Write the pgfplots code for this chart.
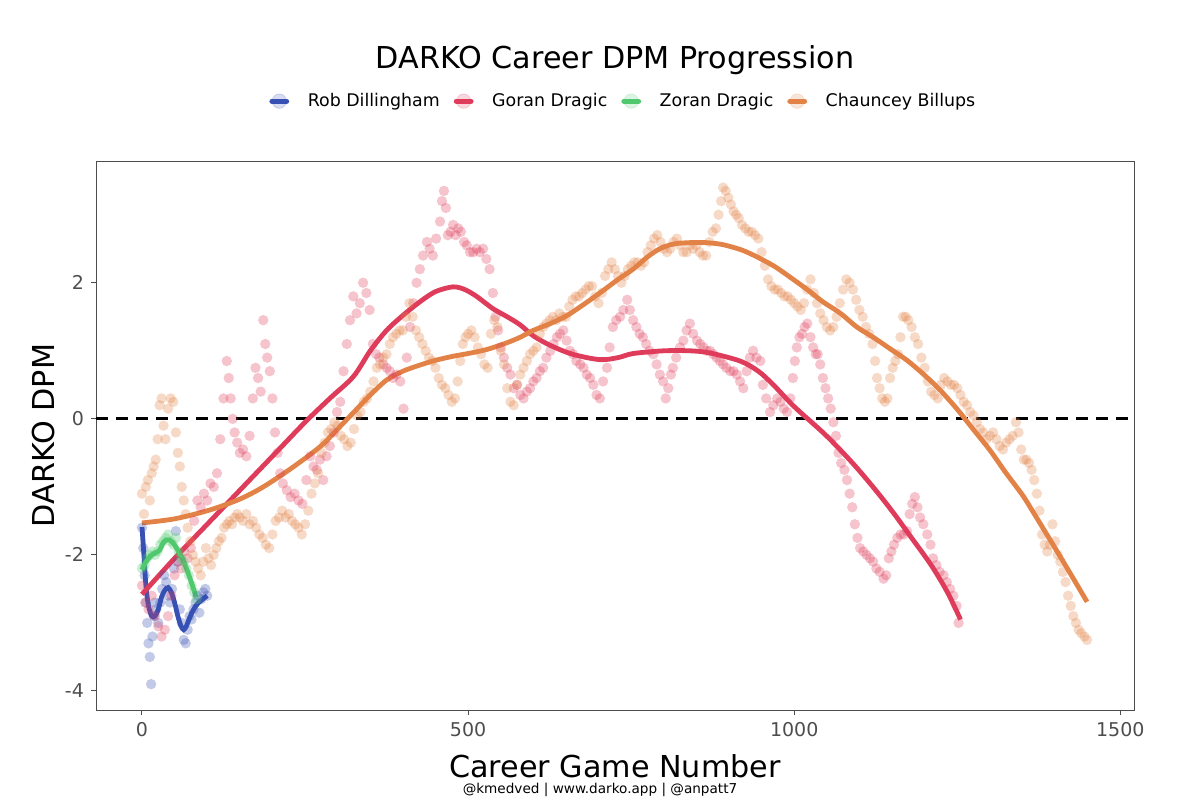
\documentclass[border=0pt]{standalone}
\usepackage{pgfplots}
\pgfplotsset{compat=1.18}
\usepackage{fontspec}
\setmainfont{DejaVu Sans}
\definecolor{cblue}{RGB}{55,80,180}
\definecolor{cred}{RGB}{222,60,90}
\definecolor{cgreen}{RGB}{80,200,110}
\definecolor{corange}{RGB}{226,130,70}
\definecolor{tickgray}{RGB}{77,77,77}
\begin{document}
\begin{tikzpicture}
\path[use as bounding box] (0,0) rectangle (600pt,400pt);
\begin{axis}[
  at={(48pt,45pt)}, anchor=south west,
  scale only axis, width=519pt, height=274.5pt,
  xmin=-70.5, xmax=1521, ymin=-4.28, ymax=3.79,
  xtick={0,500,1000,1500}, ytick={-4,-2,0,2},
  tick align=outside, tick pos=left,
  major tick length=2.5pt,
  every tick/.style={tickgray, line width=0.5pt},
  axis line style={tickgray, line width=0.5pt},
  tick label style={font=\fontsize{9.5}{11}\selectfont, text=tickgray},
  /pgf/number format/assume math mode=true,
  /pgf/number format/1000 sep={},
  xlabel={Career Game Number},
  xlabel style={at={(axis description cs:0.5,-0.102)}, anchor=center, font=\fontsize{15.1}{17}\selectfont},
  ylabel={DARKO DPM},
  ylabel style={at={(axis description cs:-0.051,0.5)}, anchor=center, font=\fontsize{15.1}{17}\selectfont},
  title={DARKO Career DPM Progression},
  every axis title shift=0pt,
  title style={at={(axis description cs:0.5,1.184)}, anchor=center, font=\fontsize{15.1}{17}\selectfont},
  legend columns=4,
  legend style={at={(axis description cs:0.509,1.109)}, anchor=center, draw=none, fill=none,
    font=\fontsize{8.7}{10}\selectfont, /tikz/every even column/.append style={column sep=5pt}},
  legend image code/.code={\fill[opacity=0.2] (4.25pt,0) circle (3.6pt); \draw[line width=2.6pt, line cap=round] (0.6pt,0) -- (7.9pt,0); \path[draw=none, fill=none] (0pt,-3pt) rectangle (16.5pt,3pt);},
]
\addlegendimage{cblue}\addlegendentry{Rob Dillingham}
\addlegendimage{cred}\addlegendentry{Goran Dragic}
\addlegendimage{cgreen}\addlegendentry{Zoran Dragic}
\addlegendimage{corange}\addlegendentry{Chauncey Billups}

% Rob Dillingham points
\addplot[forget plot, only marks, mark=*, mark size=2.6pt, color=cblue, mark options={draw opacity=0, fill opacity=0.3}] coordinates {
(0,-1.6) (2,-1.9) (4,-2.3) (6,-2.7) (8,-3.0) (10,-3.3) (12,-3.5) (14,-3.9) (16,-3.2) (18,-2.9) (20,-2.7) (22,-2.8) (25,-3.0) (28,-2.7) (31,-2.5) (34,-2.3) (37,-2.4) (40,-2.6) (43,-2.7) (46,-2.5) (49,-2.2) (52,-1.65) (55,-2.1) (58,-2.8) (61,-3.0) (64,-3.25) (67,-3.3) (70,-3.1) (73,-2.9) (76,-2.95) (79,-2.8) (82,-2.7) (85,-2.6) (88,-2.85) (91,-2.65) (94,-2.55) (97,-2.5) (100,-2.6)
};
% Goran Dragic points
\addplot[forget plot, only marks, mark=*, mark size=2.6pt, color=cred, mark options={draw opacity=0, fill opacity=0.3}] coordinates {
(0,-2.45) (5,-2.7) (10,-2.8) (15,-2.6) (20,-2.9) (25,-3.05) (30,-3.2) (35,-3.1) (40,-2.9) (45,-2.6) (50,-2.3) (55,-2.1) (60,-2.2) (65,-1.95) (70,-2.05) (75,-1.9) (80,-1.5) (85,-1.2) (90,-1.3) (95,-1.1) (100,-1.2) (105,-0.95) (110,-1.0) (115,-0.8) (120,-0.3) (125,0.3) (130,0.85) (133,0.6) (136,0.3) (139,0.0) (142,-0.2) (146,-0.35) (150,-0.5) (155,-0.45) (160,-0.55) (165,-0.25) (170,0.3) (174,0.75) (178,0.6) (182,0.4) (186,1.45) (189,1.1) (192,0.9) (196,0.7) (200,0.3) (204,-0.2) (208,-0.5) (212,-0.8) (216,-0.95) (222,-1.05) (228,-1.15) (234,-1.1) (240,-1.2) (246,-1.25) (252,-0.9) (258,-0.55) (263,-0.7) (268,-0.75) (273,-0.6) (278,-0.9) (283,-0.55) (288,-0.4) (294,-0.2) (299,0.1) (304,0.25) (309,0.7) (314,1.1) (319,1.45) (324,1.8) (329,1.55) (334,1.7) (339,2.0) (344,1.85) (349,1.6) (354,1.1) (359,0.95) (364,0.9) (370,0.8) (375,0.75) (380,0.7) (385,0.6) (390,0.65) (396,0.55) (401,0.15) (406,0.9) (411,1.35) (416,1.7) (421,2.0) (426,2.2) (431,2.4) (437,2.6) (441,2.5) (446,2.4) (451,2.65) (457,2.9) (460,3.2) (463,3.35) (466,3.1) (469,2.7) (473,2.75) (477,2.85) (481,2.7) (485,2.8) (489,2.75) (494,2.6) (498,2.55) (503,2.45) (508,2.45) (513,2.5) (518,2.45) (523,2.5) (528,2.35) (533,2.2) (538,1.85) (542,1.5) (546,1.3) (550,1.05) (555,0.9) (560,0.75) (565,0.65) (570,0.45) (575,0.5) (580,0.35) (585,0.3) (590,0.4) (595,0.45) (600,0.55) (605,0.6) (610,0.7) (615,0.75) (620,0.9) (626,1.0) (631,1.1) (636,1.2) (641,1.25) (646,1.3) (651,1.15) (656,1.0) (661,0.95) (666,0.85) (672,0.8) (677,0.75) (682,0.65) (687,0.6) (692,0.5) (697,0.35) (702,0.3) (707,0.55) (713,0.75) (717,1.05) (722,1.35) (727,1.45) (733,1.5) (738,1.6) (744,1.75) (748,1.6) (753,1.45) (758,1.35) (763,1.25) (768,1.2) (773,1.1) (778,1.0) (784,0.95) (789,0.8) (794,0.65) (799,0.55) (803,0.3) (807,0.45) (811,0.65) (814,0.75) (819,0.9) (825,1.05) (830,1.15) (835,1.3) (840,1.4) (845,1.25) (851,1.15) (856,1.1) (861,1.05) (866,1.0) (871,1.0) (876,0.95) (881,0.9) (886,0.85) (891,0.8) (896,0.75) (902,0.7) (907,0.7) (912,0.65) (917,0.55) (922,0.45) (927,0.7) (932,0.9) (937,1.0) (942,0.9) (948,0.85) (952,0.5) (957,0.3) (963,0.1) (968,0.2) (974,0.3) (979,0.25) (984,0.15) (989,0.1) (994,0.3) (998,0.6) (1001,0.85) (1004,1.05) (1008,1.2) (1012,1.25) (1016,1.35) (1020,1.4) (1025,1.2) (1029,1.05) (1033,0.95) (1036,0.95) (1040,0.8) (1044,0.6) (1048,0.45) (1052,0.3) (1056,0.15) (1060,-0.05) (1064,-0.25) (1068,-0.5) (1072,-0.65) (1077,-0.75) (1081,-0.9) (1085,-1.1) (1089,-1.3) (1093,-1.55) (1097,-1.75) (1101,-1.9) (1106,-1.95) (1111,-2.0) (1116,-2.05) (1121,-2.1) (1126,-2.2) (1131,-2.25) (1137,-2.35) (1141,-2.3) (1145,-2.05) (1149,-1.95) (1153,-1.85) (1158,-1.75) (1163,-1.7) (1168,-1.7) (1173,-1.65) (1177,-1.4) (1181,-1.25) (1185,-1.15) (1189,-1.3) (1193,-1.45) (1198,-1.55) (1204,-1.7) (1209,-1.85) (1213,-2.05) (1218,-2.15) (1223,-2.25) (1229,-2.3) (1234,-2.4) (1239,-2.5) (1244,-2.6) (1249,-2.75) (1252,-3.0)
};
% Zoran Dragic points
\addplot[forget plot, only marks, mark=*, mark size=2.6pt, color=cgreen, mark options={draw opacity=0, fill opacity=0.3}] coordinates {
(0,-2.2) (4,-2.15) (8,-2.05) (12,-2.0) (16,-1.95) (20,-2.0) (24,-1.95) (28,-1.85) (32,-1.8) (36,-1.75) (40,-1.7) (44,-1.8) (48,-1.85) (52,-1.75) (56,-1.95) (60,-2.05) (64,-2.1) (68,-2.2) (72,-2.3) (76,-2.45) (80,-2.55) (84,-2.65)
};
% Chauncey Billups points
\addplot[forget plot, only marks, mark=*, mark size=2.6pt, color=corange, mark options={draw opacity=0, fill opacity=0.3}] coordinates {
(0,-1.1) (3,-1.4) (6,-1.0) (9,-0.9) (12,-1.2) (15,-0.8) (18,-0.7) (21,-0.6) (24,-0.3) (27,0.2) (30,0.3) (33,-0.1) (36,-0.3) (40,0.15) (44,0.3) (48,0.25) (52,-0.2) (55,-0.5) (58,-0.7) (61,-1.0) (64,-1.2) (67,-1.4) (70,-1.6) (74,-1.8) (78,-2.0) (82,-2.1) (86,-2.2) (90,-2.3) (94,-2.1) (98,-1.9) (102,-2.05) (106,-2.15) (110,-2.0) (114,-1.9) (118,-1.8) (122,-1.75) (126,-1.6) (130,-1.55) (134,-1.5) (138,-1.55) (142,-1.45) (146,-1.4) (150,-1.45) (155,-1.5) (160,-1.4) (165,-1.55) (170,-1.5) (175,-1.6) (180,-1.7) (185,-1.75) (190,-1.85) (195,-1.9) (200,-1.7) (205,-1.5) (210,-1.45) (215,-1.35) (220,-1.45) (225,-1.4) (230,-1.5) (235,-1.55) (240,-1.6) (245,-1.7) (250,-1.55) (255,-1.35) (260,-1.1) (265,-0.95) (270,-0.8) (275,-0.5) (280,-0.35) (285,-0.2) (290,-0.15) (295,-0.05) (300,-0.1) (305,-0.25) (310,-0.3) (315,-0.4) (320,-0.35) (325,-0.15) (330,0.05) (335,0.1) (340,0.25) (345,0.3) (350,0.4) (355,0.55) (360,0.75) (365,0.8) (370,0.9) (375,0.95) (380,1.1) (385,1.2) (390,1.25) (395,1.3) (400,1.3) (405,1.5) (410,1.7) (415,1.5) (420,1.3) (425,1.2) (430,1.1) (435,1.0) (440,0.9) (445,0.85) (450,0.75) (455,0.6) (460,0.5) (465,0.45) (470,0.35) (475,0.25) (480,0.3) (484,0.55) (488,0.85) (492,1.1) (496,1.2) (500,1.25) (505,1.3) (510,1.2) (515,1.05) (520,0.95) (525,0.8) (530,0.75) (535,1.25) (540,1.45) (545,1.35) (550,1.0) (555,0.8) (560,0.45) (565,0.25) (570,0.2) (575,0.5) (580,0.65) (585,0.75) (590,0.85) (595,0.95) (600,1.0) (605,1.05) (610,1.25) (615,1.35) (620,1.4) (625,1.45) (630,1.5) (635,1.45) (640,1.55) (645,1.5) (650,1.5) (655,1.65) (660,1.75) (665,1.8) (670,1.8) (675,1.85) (680,1.9) (685,1.95) (690,1.95) (695,1.8) (700,1.7) (705,1.85) (710,2.1) (715,2.2) (720,2.3) (725,2.2) (730,2.1) (735,2.0) (740,2.1) (745,2.2) (750,2.25) (755,2.3) (760,2.3) (765,2.25) (770,2.3) (775,2.45) (780,2.55) (785,2.65) (790,2.7) (795,2.6) (800,2.5) (805,2.45) (810,2.5) (815,2.6) (820,2.65) (825,2.55) (830,2.45) (835,2.45) (840,2.55) (845,2.5) (850,2.55) (855,2.45) (860,2.4) (865,2.4) (870,2.6) (875,2.75) (880,2.8) (884,3.0) (888,3.2) (891,3.4) (895,3.35) (899,3.25) (903,3.15) (907,3.05) (911,3.0) (915,2.95) (920,2.85) (925,2.8) (930,2.75) (935,2.75) (940,2.7) (945,2.65) (950,2.45) (955,2.25) (960,2.05) (965,1.95) (970,1.9) (975,1.9) (980,1.85) (985,1.8) (990,1.8) (995,1.75) (1000,1.7) (1005,1.65) (1010,1.6) (1015,1.7) (1020,1.9) (1025,2.05) (1030,1.85) (1035,1.7) (1040,1.55) (1045,1.45) (1050,1.35) (1055,1.3) (1060,1.35) (1065,1.5) (1070,1.7) (1075,1.9) (1080,2.05) (1085,2.0) (1090,1.9) (1095,1.75) (1100,1.6) (1105,1.5) (1110,1.35) (1115,1.25) (1120,1.1) (1124,0.85) (1127,0.6) (1131,0.45) (1135,0.3) (1139,0.25) (1143,0.3) (1147,0.6) (1151,0.75) (1155,0.85) (1159,0.95) (1163,1.2) (1167,1.5) (1171,1.5) (1175,1.45) (1180,1.35) (1185,1.2) (1190,1.1) (1195,0.9) (1200,0.75) (1205,0.55) (1210,0.4) (1215,0.35) (1220,0.3) (1225,0.5) (1230,0.6) (1235,0.55) (1240,0.5) (1245,0.5) (1250,0.45) (1255,0.35) (1260,0.25) (1265,0.2) (1270,0.1) (1275,0.05) (1280,-0.05) (1285,-0.15) (1290,-0.2) (1295,-0.3) (1300,-0.25) (1305,-0.2) (1310,-0.3) (1315,-0.4) (1320,-0.45) (1325,-0.35) (1330,-0.3) (1335,-0.25) (1340,-0.05) (1344,-0.2) (1348,-0.45) (1352,-0.6) (1356,-0.6) (1360,-0.65) (1364,-0.75) (1368,-0.9) (1372,-1.1) (1376,-1.35) (1380,-1.7) (1384,-1.85) (1388,-1.95) (1392,-1.85) (1396,-1.55) (1400,-1.8) (1404,-2.0) (1408,-2.1) (1412,-2.25) (1416,-2.4) (1420,-2.6) (1424,-2.75) (1428,-2.9) (1432,-3.0) (1436,-3.1) (1440,-3.15) (1445,-3.2) (1449,-3.25)
};
% zero line
\addplot[forget plot, black, line width=1.4pt, dash pattern=on 6pt off 4pt] coordinates {(-70.5,0) (1521,0)};
% smooth lines
\addplot[forget plot, cblue, line width=2.4pt, smooth, tension=0.5] coordinates {
(0,-1.59) (3,-2.0) (6,-2.45) (10,-2.75) (15,-2.9) (20,-2.9) (25,-2.8) (30,-2.62) (35,-2.52) (40,-2.48) (45,-2.55) (50,-2.7) (55,-2.9) (60,-3.05) (64,-3.1) (68,-3.05) (72,-2.95) (78,-2.82) (85,-2.72) (92,-2.66) (100,-2.6)
};
\addplot[forget plot, cred, line width=2.4pt, smooth] coordinates {
(0,-2.58) (50,-2.05) (100,-1.55) (150,-1.05) (200,-0.55) (250,-0.05) (288,0.3) (324,0.62) (350,1.0) (375,1.3) (400,1.52) (426,1.72) (450,1.87) (477,1.94) (495,1.9) (513,1.8) (538,1.62) (560,1.5) (580,1.38) (600,1.22) (626,1.08) (660,0.95) (702,0.87) (730,0.9) (753,0.96) (800,1.0) (840,1.0) (870,0.97) (917,0.85) (945,0.7) (968,0.5) (1000,0.18) (1044,-0.2) (1070,-0.45) (1096,-0.72) (1125,-1.05) (1152,-1.38) (1180,-1.75) (1210,-2.15) (1235,-2.55) (1255,-2.95)
};
\addplot[forget plot, cgreen, line width=2.4pt, smooth, tension=0.5] coordinates {
(0,-2.22) (5,-2.12) (10,-2.05) (15,-2.0) (21,-1.97) (27,-1.93) (32,-1.83) (37,-1.78) (42,-1.78) (48,-1.83) (53,-1.9) (57,-1.97) (62,-2.05) (67,-2.17) (72,-2.3) (78,-2.47) (83,-2.62)
};
\addplot[forget plot, corange, line width=2.4pt, smooth] coordinates {
(0,-1.53) (50,-1.47) (104,-1.34) (150,-1.18) (186,-1.0) (230,-0.72) (273,-0.41) (300,-0.15) (324,0.09) (350,0.35) (375,0.57) (400,0.7) (426,0.79) (450,0.86) (477,0.92) (500,0.96) (529,1.02) (560,1.12) (580,1.2) (600,1.3) (626,1.4) (652,1.52) (680,1.7) (702,1.85) (730,2.05) (753,2.2) (775,2.38) (794,2.5) (815,2.57) (840,2.59) (865,2.59) (891,2.56) (920,2.48) (943,2.38) (970,2.24) (994,2.08) (1020,1.9) (1044,1.72) (1071,1.55) (1096,1.35) (1121,1.2) (1147,1.03) (1173,0.86) (1200,0.64) (1224,0.42) (1250,0.14) (1275,-0.16) (1300,-0.46) (1325,-0.8) (1350,-1.12) (1367,-1.38) (1400,-1.9) (1425,-2.3) (1449,-2.69)
};
\end{axis}
\node[font=\fontsize{6.8}{8}\selectfont, anchor=center] at (300pt,5pt) {@kmedved | www.darko.app | @anpatt7};
\end{tikzpicture}
\end{document}
